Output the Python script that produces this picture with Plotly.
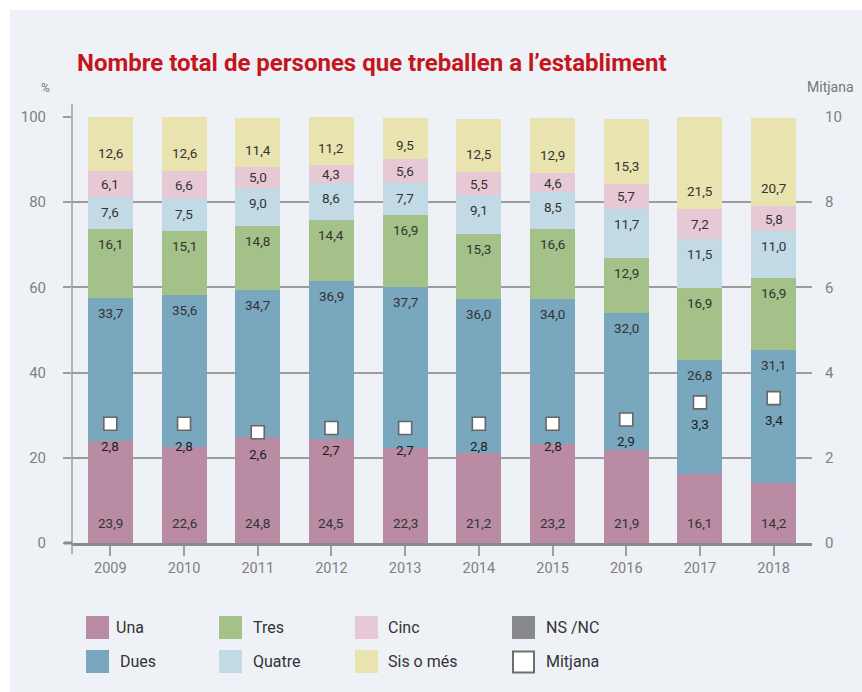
import plotly.graph_objects as go

# ---------------- data ----------------
years = ["2009", "2010", "2011", "2012", "2013", "2014", "2015", "2016", "2017", "2018"]
una = [23.9, 22.6, 24.8, 24.5, 22.3, 21.2, 23.2, 21.9, 16.1, 14.2]
dues = [33.7, 35.6, 34.7, 36.9, 37.7, 36.0, 34.0, 32.0, 26.8, 31.1]
tres = [16.1, 15.1, 14.8, 14.4, 16.9, 15.3, 16.6, 12.9, 16.9, 16.9]
quatre = [7.6, 7.5, 9.0, 8.6, 7.7, 9.1, 8.5, 11.7, 11.5, 11.0]
cinc = [6.1, 6.6, 5.0, 4.3, 5.6, 5.5, 4.6, 5.7, 7.2, 5.8]
sis = [12.6, 12.6, 11.4, 11.2, 9.5, 12.5, 12.9, 15.3, 21.5, 20.7]
mitjana = [2.8, 2.8, 2.6, 2.7, 2.7, 2.8, 2.8, 2.9, 3.3, 3.4]
left_ticks = [0, 20, 40, 60, 80, 100]
right_ticks = [0, 2, 4, 6, 8, 10]

# ---------------- style ----------------
W, H = 862, 692
L, R, T, B = 72, 812, 117, 543          # plot area in pixels
PANEL = "#eef2f6"
FONT = "Roboto"
GRID = "#9c9c9c"
TICKC = "#8a8a8a"
LABC = "#333333"
colors = {
    "Una": "#b98ca3",
    "Dues": "#79a7bd",
    "Tres": "#a3c188",
    "Quatre": "#c2dae5",
    "Cinc": "#e7c9d6",
    "Sis o més": "#e9e3b0",
    "NS /NC": "#88898b",
}
px_per_unit = (B - T) / 100.0


def px(x):
    return (x - L) / (R - L)


def py(y):
    return (B - y) / (B - T)


def fmt(v):
    return f"{v:.1f}".replace(".", ",")


series = [("Una", una), ("Dues", dues), ("Tres", tres),
          ("Quatre", quatre), ("Cinc", cinc), ("Sis o més", sis)]

fig = go.Figure()
for name, vals in series:
    fig.add_trace(go.Bar(x=years, y=vals, name=name, marker_color=colors[name],
                         marker_line_width=0, showlegend=False, width=0.61))

fig.add_trace(go.Scatter(x=years, y=mitjana, name="Mitjana", yaxis="y2", mode="markers",
                         marker=dict(symbol="square", size=13, color="white",
                                     line=dict(color="#666666", width=1.6)),
                         showlegend=False))

annotations = []
# segment labels (x given as category index)
base = [0.0] * len(years)
for name, vals in series:
    for i, v in enumerate(vals):
        b0 = base[i]
        top = b0 + v
        hpx = v * px_per_unit
        if name == "Una":
            yv, sh = b0, 20
        elif name in ("Dues", "Tres", "Quatre"):
            yv, sh = top, -min(15, hpx / 2)
        elif name == "Cinc":
            yv, sh = b0 + v / 2, 0
        else:
            yv, sh = b0, min(18, 0.35 * hpx)
        annotations.append(dict(x=i, y=yv, xref="x", yref="y", yshift=sh,
                                text=fmt(v), showarrow=False, yanchor="middle",
                                font=dict(family=FONT, size=13.5, color=LABC)))
        base[i] = top

# mitjana labels
for i, v in enumerate(mitjana):
    annotations.append(dict(x=i, y=v, xref="x", yref="y2", yshift=-22,
                            text=fmt(v), showarrow=False, yanchor="middle",
                            font=dict(family=FONT, size=13.5, color="#1e1e1e")))

# title and axis captions
annotations.append(dict(x=px(75), y=py(63), xref="paper", yref="paper", xanchor="left",
                        yanchor="middle", showarrow=False,
                        text="<b>Nombre total de persones que treballen a l’establiment</b>",
                        font=dict(family=FONT, size=24, color="#c4161c")))
annotations.append(dict(x=px(45), y=py(88), xref="paper", yref="paper", xanchor="center",
                        yanchor="middle", showarrow=False, text="%",
                        font=dict(family=FONT, size=12, color="#777777")))
annotations.append(dict(x=px(830), y=py(87), xref="paper", yref="paper", xanchor="center",
                        yanchor="middle", showarrow=False, text="Mitjana",
                        font=dict(family=FONT, size=14, color="#777777")))

shapes = []
# background panel
shapes.append(dict(type="rect", xref="paper", yref="paper", x0=px(10), x1=px(W + 5),
                   y0=py(H + 5), y1=py(10), fillcolor=PANEL, line_width=0, layer="below"))
# left vertical axis line
shapes.append(dict(type="line", xref="paper", yref="paper", x0=0, x1=0,
                   y0=py(554), y1=py(104), line=dict(color=GRID, width=1.5)))
# extend bottom axis line to the left
shapes.append(dict(type="line", xref="paper", yref="paper", x0=px(64), x1=0,
                   y0=0, y1=0, line=dict(color=TICKC, width=3)))

# manual legend
legend_rows = [
    [("Una", 86, 114), ("Tres", 219, 251), ("Cinc", 355, 386), ("NS /NC", 512, 544)],
    [("Dues", 86, 118), ("Quatre", 219, 251), ("Sis o més", 355, 386), ("Mitjana", 512, 544)],
]
row_y = [627.5, 661.5]
for r, row in enumerate(legend_rows):
    for name, sx, tx in row:
        cy = row_y[r]
        if name == "Mitjana":
            shapes.append(dict(type="rect", xref="paper", yref="paper",
                               x0=px(sx + 1), x1=px(sx + 22), y0=py(cy + 11), y1=py(cy - 10),
                               fillcolor="white", line=dict(color="#6e6e6e", width=2)))
        else:
            shapes.append(dict(type="rect", xref="paper", yref="paper",
                               x0=px(sx), x1=px(sx + 23), y0=py(cy + 11.5), y1=py(cy - 11.5),
                               fillcolor=colors[name], line_width=0))
        annotations.append(dict(x=px(tx), y=py(cy), xref="paper", yref="paper",
                                xanchor="left", yanchor="middle", showarrow=False,
                                text=name, font=dict(family=FONT, size=16, color=LABC)))

fig.update_layout(
    width=W, height=H,
    margin=dict(l=L, r=W - R, t=T, b=H - B, pad=0),
    paper_bgcolor="white",
    plot_bgcolor=PANEL,
    barmode="stack",
    bargap=0.39,
    font=dict(family=FONT, color="#808080"),
    xaxis=dict(type="category", showgrid=False, showline=True, linecolor=TICKC,
               linewidth=3, ticks="outside", ticklen=10, tickwidth=1.5, tickcolor="#a0a0a0",
               tickfont=dict(family=FONT, size=14.5, color="#808080"), zeroline=False,
               range=[-0.52, 9.52]),
    yaxis=dict(range=[0, 100], tickvals=left_ticks, showgrid=True, gridcolor=GRID,
               gridwidth=1.5, ticks="outside", ticklen=8, tickwidth=1.5, tickcolor=GRID,
               zeroline=False, showline=False, ticklabelstandoff=14,
               tickfont=dict(family=FONT, size=15, color="#808080")),
    yaxis2=dict(range=[0, 10], tickvals=right_ticks, overlaying="y", side="right",
                showgrid=False, zeroline=False, showline=False, ticks="",
                ticklabelstandoff=12,
                tickfont=dict(family=FONT, size=15, color="#808080")),
    shapes=shapes,
    annotations=annotations,
    showlegend=False,
)

fig.write_html("out.html", config={"displayModeBar": False},
               post_script="document.body.style.margin='0';document.body.style.padding='0';")
